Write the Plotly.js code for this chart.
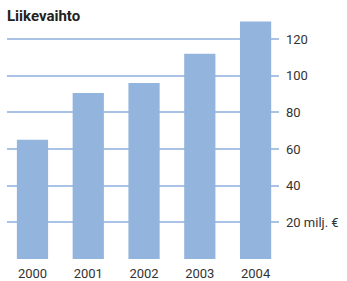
<!DOCTYPE html>
<html><head><meta charset="utf-8">
<script src="https://cdn.plot.ly/plotly-3.0.1.min.js"></script>
<style>body{margin:0;padding:0;background:#fff}#chart{width:347px;height:281px}</style>
</head><body><div id="chart"></div>
<script>
const years = ["2000","2001","2002","2003","2004"];
const revenue = [65, 90.5, 96, 112, 129.5];
const tickValues = [0, 20, 40, 60, 80, 100, 120];
const tickLabels = ["", "20 milj. €", "40", "60", "80", "100", "120"];

const data = [{
  type: "bar",
  x: years,
  y: revenue,
  marker: {color: "#93b4dc"},
  width: 0.56,
  hoverinfo: "none"
}];
const layout = {
  width: 347, height: 281,
  margin: {l: 7, r: 68, t: 17, b: 22},
  paper_bgcolor: "#fff", plot_bgcolor: "#fff",
  font: {family: "Roboto, sans-serif", size: 13, color: "#333"},
  title: {text: "<b>Liikevaihto</b>", x: 0, xref: "paper", xanchor: "left", y: 1, yref: "container", yanchor: "top", pad: {t: 10}, font: {size: 15, color: "#222"}},
  bargap: 0.44,
  showlegend: false,
  xaxis: {
    type: "category",
    range: [-0.457, 4.42],
    showgrid: false, zeroline: false, showline: false, ticks: "",
    ticklabelstandoff: 5,
    tickfont: {size: 13, color: "#333"}
  },
  yaxis: {
    side: "right",
    range: [0, 132],
    tickmode: "array", tickvals: tickValues, ticktext: tickLabels,
    showgrid: true, gridcolor: "#a8c3e6", gridwidth: 2,
    zeroline: false, showline: false, ticks: "",
    ticklabelstandoff: 6,
    tickfont: {size: 13, color: "#333"}
  }
};
Plotly.newPlot("chart", data, layout, {displayModeBar: false, staticPlot: true});
</script></body></html>
